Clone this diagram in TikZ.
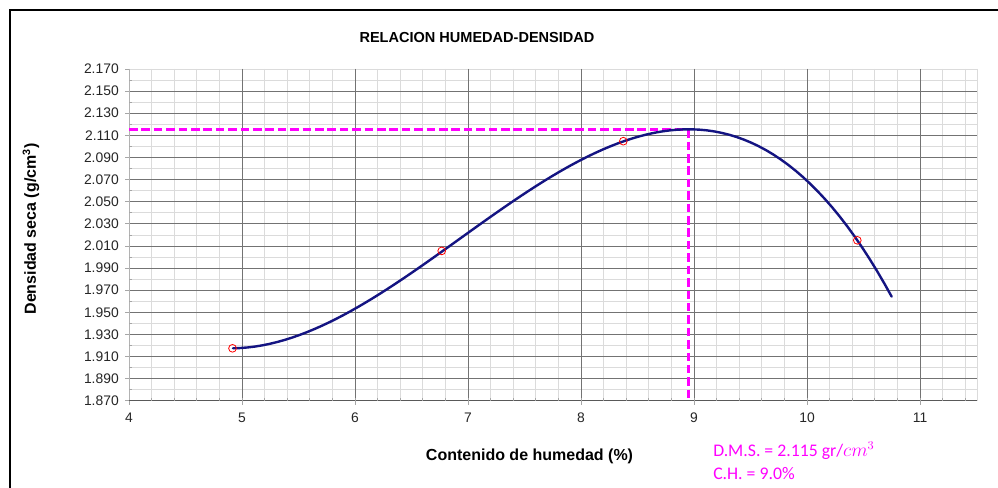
\documentclass[tikz,border=0pt]{standalone}
\usepackage{fontspec}
\setmainfont{Liberation Sans}
\newfontfamily\calibfont{Carlito}
\definecolor{curveblue}{RGB}{20,20,130}
\definecolor{magline}{RGB}{255,0,255}
\begin{document}
\begin{tikzpicture}[x=0.75pt,y=-0.75pt,
  minorgrid/.style={draw=gray!28,line width=0.5pt},
  majorgrid/.style={draw=black!55,line width=0.6pt},
  tickmark/.style={draw=gray!70,line width=0.5pt},
  ticklab/.style={font=\fontsize{10.4}{12}\selectfont,inner sep=0pt,text=black!85},
  axtitle/.style={font=\fontsize{12}{14}\bfseries\selectfont,inner sep=0pt},
  maintitle/.style={font=\fontsize{10.9}{13}\bfseries\selectfont,inner sep=0pt},
  fitcurve/.style={draw=curveblue,line width=1.8pt,line cap=round},
  guide/.style={draw=magline,line width=1.9pt,dash pattern=on 6.4pt off 2.9pt},
  datapt/.style={circle,draw=red,line width=0.6pt,minimum size=5.8pt,inner sep=0pt},
  note/.style={font=\calibfont\fontsize{13.3}{16}\selectfont,text=magline,inner sep=0pt,anchor=base west}
]
\fill[white] (0,0) rectangle (998,488);
\useasboundingbox (0,0) rectangle (998,488);
% outer frame (cropped)
\draw[line width=1.6pt] (10,488) -- (10,10) -- (998,10);
% grid
\foreach \j in {0,1,3,...,29} \draw[minorgrid] (129,{69+\j*11.0567}) -- (977,{69+\j*11.0567});
\foreach \i in {1,...,37} \draw[minorgrid] ({129+\i*22.6},69) -- ({129+\i*22.6},400.7);
\draw[minorgrid] (977,69) -- (977,400.7);
\foreach \j in {2,4,...,28} \draw[majorgrid] (129,{69+\j*11.0567}) -- (977,{69+\j*11.0567});
\foreach \i in {1,...,7} \draw[majorgrid] ({129+\i*113},69) -- ({129+\i*113},400.7);
% axes
\draw[gray!60,line width=0.6pt] (129,69) -- (129,400.7);
\draw[black!65,line width=0.7pt] (129,400.7) -- (977,400.7);
% ticks
\foreach \j in {0,2,...,30} \draw[tickmark] (125,{69+\j*11.0567}) -- (129,{69+\j*11.0567});
\foreach \j in {1,3,...,29} \draw[tickmark] (129,{69+\j*11.0567}) -- (132,{69+\j*11.0567});
\foreach \i in {0,...,7} \draw[tickmark] ({129+\i*113},400.7) -- ({129+\i*113},405);
\foreach \i in {1,...,37} \draw[tickmark] ({129+\i*22.6},400.7) -- ({129+\i*22.6},397.7);
% tick labels
\foreach \j/\v in {0/2.170,2/2.150,4/2.130,6/2.110,8/2.090,10/2.070,12/2.050,14/2.030,16/2.010,18/1.990,20/1.970,22/1.950,24/1.930,26/1.910,28/1.890,30/1.870}
  \node[ticklab,anchor=east] (ylab\j) at (119,{69+\j*11.0567}) {\v};
\foreach \i in {4,...,11}
  \node[ticklab] (xlab\i) at ({129+(\i-4)*113},418) {\i};
% titles
\node[maintitle] (title) at (477,38) {RELACION HUMEDAD-DENSIDAD};
\node[axtitle,rotate=90] (ytitle) at (31,229) {Densidad seca (g/cm\textsuperscript{3})};
\node[axtitle] (xtitle) at (529.5,456) {Contenido de humedad (\%)};
% guide lines
\coordinate (peak) at (688.6,129.3);
\coordinate (yaxpk) at (129,129.3);
\coordinate (xaxpk) at (688.6,400.7);
\draw[guide] (yaxpk) -- (peak);
\draw[guide] (peak) -- (xaxpk);
% fitted curve
\draw[fitcurve] plot[domain=-3.27:3.317,samples=90,variable=\t]
  ({560+100*\t},{171.45-57.984*\t+13.729*\t*\t+4.5633*\t*\t*\t});
% data points
\node[datapt] (p1) at (232.5,348.3) {};
\node[datapt] (p2) at (441.7,250.9) {};
\node[datapt] (p3) at (623.3,141.2) {};
\node[datapt] (p4) at (857.3,240.3) {};
% notes
\node[note] (dms) at (713,456) {D.M.S. = 2.115 gr/$cm^3$};
\node[note] (ch) at (713,479) {C.H. = 9.0\%};
\end{tikzpicture}
\end{document}
